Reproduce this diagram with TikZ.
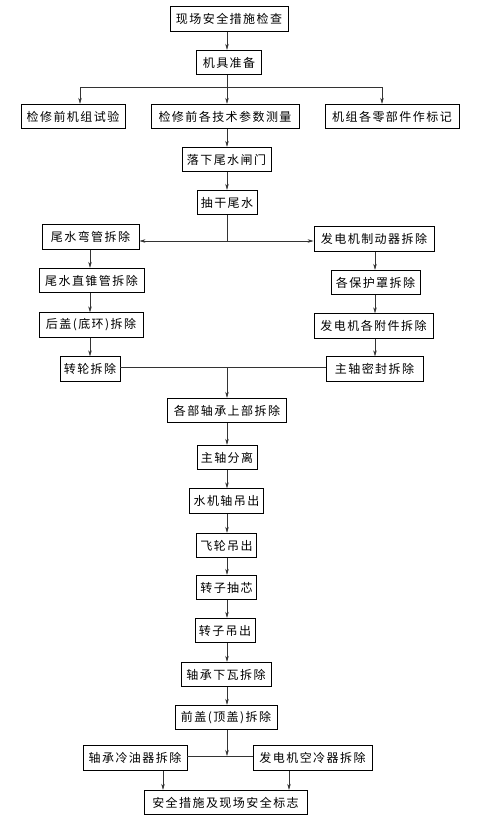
\documentclass[tikz,border=0pt]{standalone}
\usepackage{fontspec}
\newfontfamily\cjk[LetterSpace=12]{Noto Sans CJK SC}
\usetikzlibrary{arrows.meta,calc}
\begin{document}
\begin{tikzpicture}[x=1pt,y=-1pt,
  box/.style={draw=black,line width=0.9pt,minimum height=24.5pt,inner sep=0pt,font=\cjk\fontsize{12pt}{14pt}\selectfont,fill=white},
  ln/.style={line width=0.5pt,draw=black!80},
  arr/.style={ln,-{Stealth[length=6pt,width=3.5pt]}}]
\useasboundingbox (0,0) rectangle (477,816);
% nodes
\node[box,minimum width=118pt] (n1) at (229,19) {现场安全措施检查};
\node[box,minimum width=65pt] (n2) at (229,62.5) {机具准备};
\node[box,minimum width=104pt] (t1) at (73,116.5) {检修前机组试验};
\node[box,minimum width=148pt] (t2) at (225,116.5) {检修前各技术参数测量};
\node[box,minimum width=134pt] (t3) at (392,116.5) {机组各零部件作标记};
\node[box,minimum width=89pt] (w1) at (226.5,159.5) {落下尾水闸门};
\node[box,minimum width=60pt] (w2) at (227,202.5) {抽干尾水};
\node[box,minimum width=97pt] (l1) at (90.5,237) {尾水弯管拆除};
\node[box,minimum width=105pt] (l2) at (91.5,280.5) {尾水直锥管拆除};
\node[box,minimum width=104pt] (l3) at (91,325) {后盖(底环)拆除};
\node[box,minimum width=60pt] (l4) at (90,369) {转轮拆除};
\node[box,minimum width=120pt] (r1) at (374,239) {发电机制动器拆除};
\node[box,minimum width=89pt] (r2) at (375.5,282.5) {各保护罩拆除};
\node[box,minimum width=119pt] (r3) at (373.5,326) {发电机各附件拆除};
\node[box,minimum width=97pt] (r4) at (374.5,369) {主轴密封拆除};
\node[box,minimum width=119pt] (m1) at (227,410.5) {各部轴承上部拆除};
\node[box,minimum width=60pt] (m2) at (227,457.5) {主轴分离};
\node[box,minimum width=74pt] (m3) at (226.5,501) {水机轴吊出};
\node[box,minimum width=60pt] (m4) at (226.5,545.5) {飞轮吊出};
\node[box,minimum width=60pt] (m5) at (226.5,587.5) {转子抽芯};
\node[box,minimum width=60pt] (m6) at (225,630.5) {转子吊出};
\node[box,minimum width=90pt] (m7) at (226,674.5) {轴承下瓦拆除};
\node[box,minimum width=102pt] (m8) at (226,717.5) {前盖(顶盖)拆除};
\node[box,minimum width=104pt] (b1) at (135,758) {轴承冷油器拆除};
\node[box,minimum width=119pt] (b2) at (312.5,758) {发电机空冷器拆除};
\node[box,minimum width=163pt] (e) at (225.5,802.5) {安全措施及现场安全标志};
% coordinates
\coordinate (f1) at (227,87);
\coordinate (f1l) at (80,87);
\coordinate (f1r) at (382,87);
\coordinate (f2) at (227,241);
\coordinate (f3) at (227,367);
\coordinate (f4) at (227,756);
\coordinate (xl) at (90,0);
\coordinate (xr) at (375,0);
\coordinate (xm) at (227,0);
\coordinate (xb1) at (163,0);
\coordinate (xb2) at (289,0);
% connectors
\draw[arr] (n1.south -| xm) -- (n2.north -| xm);
\draw[ln] (n2.south -| xm) -- (f1);
\draw[ln] (f1l) -- (f1r);
\draw[arr] (f1l) -- (t1.north -| f1l);
\draw[arr] (f1) -- (t2.north -| f1);
\draw[arr] (f1r) -- (t3.north -| f1r);
\draw[arr] (t2.south -| xm) -- (w1.north -| xm);
\draw[arr] (w1.south -| xm) -- (w2.north -| xm);
\draw[ln] (w2.south -| xm) -- (f2);
\draw[arr] (f2) -- (f2 -| l1.east);
\draw[arr] (f2) -- (f2 -| r1.west);
\draw[arr] (l1.south -| xl) -- (l2.north -| xl);
\draw[arr] (l2.south -| xl) -- (l3.north -| xl);
\draw[arr] (l3.south -| xl) -- (l4.north -| xl);
\draw[arr] (r1.south -| xr) -- (r2.north -| xr);
\draw[arr] (r2.south -| xr) -- (r3.north -| xr);
\draw[arr] (r3.south -| xr) -- (r4.north -| xr);
\draw[ln] (f3 -| l4.east) -- (f3 -| r4.west);
\draw[arr] (f3) -- (m1.north -| f3);
\draw[arr] (m1.south -| xm) -- (m2.north -| xm);
\draw[arr] (m2.south -| xm) -- (m3.north -| xm);
\draw[arr] (m3.south -| xm) -- (m4.north -| xm);
\draw[arr] (m4.south -| xm) -- (m5.north -| xm);
\draw[arr] (m5.south -| xm) -- (m6.north -| xm);
\draw[arr] (m6.south -| xm) -- (m7.north -| xm);
\draw[arr] (m7.south -| xm) -- (m8.north -| xm);
\draw[ln] (f4 -| b1.east) -- (f4 -| b2.west);
\draw[arr] (m8.south -| xm) -- (f4);
\draw[arr] (b1.south -| xb1) -- (e.north -| xb1);
\draw[arr] (b2.south -| xb2) -- (e.north -| xb2);
\end{tikzpicture}
\end{document}
